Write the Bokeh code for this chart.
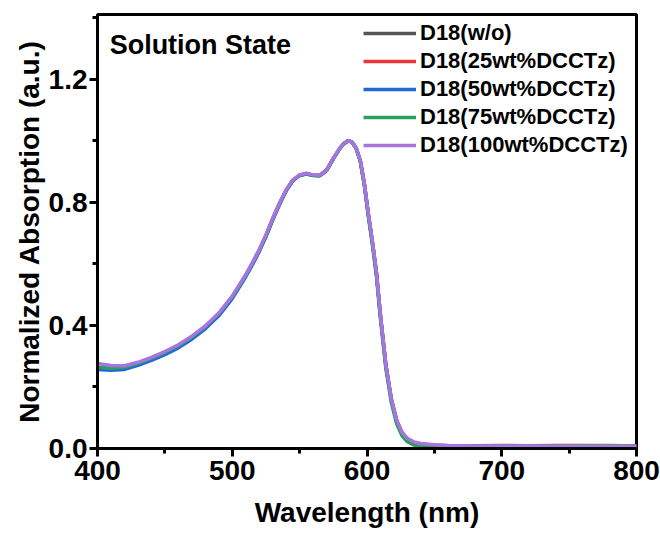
from bokeh.plotting import figure
from bokeh.models import Range1d, SingleIntervalTicker, NumeralTickFormatter, Legend, LegendItem, Label
from bokeh.embed import file_html
from bokeh.resources import INLINE

wavelength = [400, 410, 420, 430, 440, 450, 460, 470, 480, 490, 500, 510, 515, 520, 525, 530, 535,
              540, 545, 550, 555, 560, 565, 570, 575, 580, 583, 586, 589, 592, 595, 598, 601, 604,
              607, 610, 614, 618, 622, 626, 630, 635, 640, 650, 660, 680, 700, 720, 740, 760, 780, 800]

abs_wo = [0.262, 0.259, 0.262, 0.275, 0.291, 0.310, 0.332, 0.360, 0.394, 0.436, 0.491, 0.561, 0.600,
          0.642, 0.690, 0.744, 0.794, 0.838, 0.871, 0.888, 0.893, 0.888, 0.887, 0.904, 0.942, 0.976,
          0.991, 1.000, 0.995, 0.975, 0.935, 0.860, 0.760, 0.670, 0.570, 0.430, 0.270, 0.160, 0.090,
          0.050, 0.030, 0.018, 0.013, 0.010, 0.008, 0.007, 0.007, 0.007, 0.006, 0.006, 0.006, 0.006]
abs_25 = [0.263, 0.260, 0.263, 0.276, 0.292, 0.311, 0.333, 0.361, 0.395, 0.437, 0.492, 0.562, 0.601,
          0.643, 0.691, 0.745, 0.795, 0.839, 0.872, 0.888, 0.893, 0.888, 0.887, 0.904, 0.942, 0.976,
          0.991, 1.000, 0.995, 0.975, 0.935, 0.860, 0.760, 0.670, 0.570, 0.430, 0.270, 0.160, 0.090,
          0.050, 0.030, 0.019, 0.014, 0.011, 0.009, 0.009, 0.010, 0.009, 0.010, 0.010, 0.009, 0.009]
abs_50 = [0.257, 0.254, 0.257, 0.270, 0.286, 0.305, 0.327, 0.355, 0.389, 0.431, 0.487, 0.558, 0.597,
          0.640, 0.688, 0.742, 0.792, 0.837, 0.870, 0.887, 0.892, 0.887, 0.886, 0.903, 0.941, 0.976,
          0.991, 1.000, 0.995, 0.975, 0.935, 0.860, 0.760, 0.670, 0.570, 0.430, 0.270, 0.160, 0.090,
          0.050, 0.030, 0.018, 0.013, 0.010, 0.008, 0.007, 0.007, 0.007, 0.006, 0.006, 0.006, 0.006]
abs_75 = [0.264, 0.261, 0.264, 0.277, 0.293, 0.312, 0.334, 0.362, 0.396, 0.438, 0.493, 0.563, 0.602,
          0.644, 0.692, 0.746, 0.796, 0.839, 0.872, 0.888, 0.893, 0.888, 0.887, 0.904, 0.942, 0.976,
          0.991, 1.000, 0.995, 0.974, 0.933, 0.856, 0.754, 0.662, 0.560, 0.420, 0.260, 0.150, 0.080,
          0.041, 0.022, 0.011, 0.007, 0.005, 0.006, 0.007, 0.008, 0.008, 0.008, 0.009, 0.010, 0.008]
abs_100 = [0.276, 0.270, 0.269, 0.280, 0.296, 0.315, 0.337, 0.365, 0.398, 0.440, 0.495, 0.565, 0.604,
           0.646, 0.694, 0.748, 0.797, 0.840, 0.873, 0.889, 0.894, 0.889, 0.888, 0.905, 0.943, 0.977,
           0.992, 1.000, 0.995, 0.976, 0.936, 0.862, 0.763, 0.673, 0.573, 0.433, 0.273, 0.163, 0.093,
           0.053, 0.033, 0.021, 0.016, 0.012, 0.010, 0.008, 0.008, 0.008, 0.007, 0.007, 0.007, 0.007]

series_names = ["D18(w/o)", "D18(25wt%DCCTz)", "D18(50wt%DCCTz)", "D18(75wt%DCCTz)", "D18(100wt%DCCTz)"]
series_values = [abs_wo, abs_25, abs_50, abs_75, abs_100]
series_colors = ["#555555", "#e8383d", "#2266dd", "#27a05a", "#a775e0"]

x_ticks_interval = 100
y_ticks_interval = 0.4

FONT = "Liberation Sans"

p = figure(width=660, height=538, output_backend="svg", toolbar_location=None,
           x_range=Range1d(400, 800), y_range=Range1d(0, 1.41),
           min_border_left=97, min_border_right=24, min_border_top=14, min_border_bottom=90)
p.grid.visible = False
p.background_fill_color = "white"
p.border_fill_color = "white"
p.outline_line_color = "black"
p.outline_line_width = 3

p.xaxis.ticker = SingleIntervalTicker(interval=x_ticks_interval, num_minor_ticks=2)
p.yaxis.ticker = SingleIntervalTicker(interval=y_ticks_interval, num_minor_ticks=2)
p.yaxis.formatter = NumeralTickFormatter(format="0.0")

for ax in (p.xaxis, p.yaxis):
    ax.axis_line_width = 3
    ax.axis_line_color = "black"
    ax.major_tick_line_width = 3
    ax.minor_tick_line_width = 3
    ax.major_tick_out = 8
    ax.major_tick_in = 0
    ax.minor_tick_out = 5
    ax.minor_tick_in = 0
    ax.major_label_text_font = FONT
    ax.major_label_text_font_style = "bold"
    ax.major_label_text_font_size = "28px"
    ax.major_label_text_color = "black"
    ax.axis_label_text_font = FONT
    ax.axis_label_text_font_style = "bold"
    ax.axis_label_text_font_size = "28px"
    ax.axis_label_text_color = "black"

p.xaxis.axis_label = "Wavelength (nm)"
p.yaxis.axis_label = "Normalized Absorption (a.u.)"
p.xaxis.major_label_standoff = 4
p.xaxis.axis_label_standoff = 14
p.yaxis.major_label_standoff = 2
p.yaxis.axis_label_standoff = 1

items = []
for name, vals, col in zip(series_names, series_values, series_colors):
    r = p.line(wavelength, vals, line_color=col, line_width=3.5)
    items.append(LegendItem(label=name, renderers=[r]))

legend = Legend(items=items, location=(264, 287),
                background_fill_alpha=0, border_line_alpha=0,
                label_text_font=FONT, label_text_font_style="bold",
                label_text_font_size="22px", label_text_color="black",
                glyph_width=53, glyph_height=28, label_height=28, spacing=0,
                label_standoff=4, padding=2, margin=0)
p.add_layout(legend, "center")

p.add_layout(Label(x=409, y=1.31, text="Solution State", text_baseline="middle",
                   text_font=FONT, text_font_style="bold", text_font_size="27px",
                   text_color="black"))

open("out.html", "w").write(file_html(p, INLINE))
